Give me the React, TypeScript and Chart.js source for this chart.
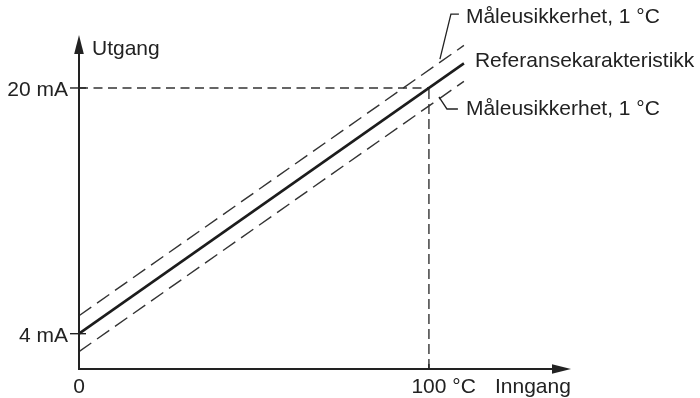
import React, { useEffect, useRef } from "react";
import { Chart, registerables } from "chart.js";

Chart.register(...registerables);

// ---- data (values in axis units: °C along x, mA along y) ----
const inputX = [0, 110];
const referenceY = [4, 21.6];
const upperY = [5.17, 22.77];
const lowerY = [2.83, 20.43];
const guideHX = [0, 100];
const guideHY = [20, 20];
const guideVX = [100, 100];
const guideVY = [1.7, 20];
const yTickValues = [4, 20];
const yTickLabels = ["4 mA", "20 mA"];
const xTickValues = [0, 100];
const xTickLabels = ["0", "100 °C"];
const xTitle = "Inngang";
const yTitle = "Utgang";
const seriesLabels = ["Måleusikkerhet, 1 °C", "Referansekarakteristikk", "Måleusikkerhet, 1 °C"];

const X_MIN = 0;
const X_MAX = 140.6;
const Y_MIN = 1.7;
const Y_MAX = 23.45;

const INK = "#222222";
const FONT = '21px "Liberation Sans", Arial, Helvetica, sans-serif';

const pts = (xs: number[], ys: number[]) => xs.map((x, i) => ({ x, y: ys[i] }));

const schematicPlugin = {
  id: "schematicAxes",
  afterDatasetsDraw(chart: any) {
    const ctx: CanvasRenderingContext2D = chart.ctx;
    const xs = chart.scales.x;
    const ys = chart.scales.y;
    const x0 = xs.getPixelForValue(X_MIN);
    const yB = ys.getPixelForValue(Y_MIN);
    const yT = ys.getPixelForValue(Y_MAX);
    const xR = xs.getPixelForValue(X_MAX);
    ctx.save();
    ctx.strokeStyle = INK;
    ctx.fillStyle = INK;
    ctx.setLineDash([]);
    ctx.lineWidth = 2;
    // axes
    ctx.beginPath();
    ctx.moveTo(x0, yB + 1);
    ctx.lineTo(x0, yT + 16);
    ctx.moveTo(x0 - 1, yB);
    ctx.lineTo(xR - 16, yB);
    ctx.stroke();
    // arrowheads
    ctx.beginPath();
    ctx.moveTo(x0, yT);
    ctx.lineTo(x0 - 4.8, yT + 19);
    ctx.lineTo(x0 + 4.8, yT + 19);
    ctx.closePath();
    ctx.fill();
    ctx.beginPath();
    ctx.moveTo(xR, yB);
    ctx.lineTo(xR - 19, yB - 4.8);
    ctx.lineTo(xR - 19, yB + 4.8);
    ctx.closePath();
    ctx.fill();

    // y ticks and labels
    ctx.lineWidth = 1.4;
    ctx.font = FONT;
    ctx.textBaseline = "alphabetic";
    yTickValues.forEach((v, i) => {
      const py = ys.getPixelForValue(v);
      ctx.beginPath();
      ctx.moveTo(x0 - 9, py);
      ctx.lineTo(x0 + 7, py);
      ctx.stroke();
      ctx.textAlign = "right";
      ctx.fillText(yTickLabels[i], x0 - 11, py + 8.5);
    });
    // x ticks and labels
    xTickValues.forEach((v, i) => {
      const px = xs.getPixelForValue(v);
      if (v !== X_MIN) {
        ctx.beginPath();
        ctx.moveTo(px, yB);
        ctx.lineTo(px, yB - 5);
        ctx.stroke();
      }
      const label = xTickLabels[i];
      const num = label.split(" ")[0];
      const w = ctx.measureText(num).width;
      ctx.textAlign = "left";
      ctx.fillText(label, px - w / 2, 392.5);
    });
    // axis titles
    ctx.textAlign = "left";
    ctx.fillText(yTitle, x0 + 13, yT + 20);
    ctx.fillText(xTitle, xR - 76, 392.5);

    // series labels with leaders
    const last = inputX.length - 1;
    const ex = xs.getPixelForValue(inputX[last]);
    const eUp = ys.getPixelForValue(upperY[last]);
    const eRef = ys.getPixelForValue(referenceY[last]);
    const eLo = ys.getPixelForValue(lowerY[last]);
    ctx.fillText(seriesLabels[0], ex + 2, eUp - 22.4);
    ctx.fillText(seriesLabels[1], ex + 11, eRef + 4);
    ctx.fillText(seriesLabels[2], ex + 2, eLo + 33.6);
    ctx.lineWidth = 1.3;
    ctx.beginPath();
    ctx.moveTo(ex - 24, eUp + 13.6);
    ctx.lineTo(ex - 13, eUp - 31.4);
    ctx.lineTo(ex - 5, eUp - 31.4);
    ctx.moveTo(ex - 25, eLo + 15.6);
    ctx.lineTo(ex - 17, eLo + 27.6);
    ctx.lineTo(ex - 6, eLo + 27.6);
    ctx.stroke();
    ctx.restore();
  },
};

export default function App() {
  const ref = useRef<HTMLCanvasElement | null>(null);
  useEffect(() => {
    document.body.style.margin = "0";
    const canvas = ref.current;
    if (!canvas) return;
    const dashed = { borderColor: "#333333", borderWidth: 1.4, pointRadius: 0, fill: false, tension: 0, clip: false as any };
    const chart = new Chart(canvas, {
      type: "line",
      data: {
        datasets: [
          { label: seriesLabels[1], data: pts(inputX, referenceY), borderColor: "#1c1c1c", borderWidth: 2.6, pointRadius: 0, fill: false, tension: 0, clip: false as any },
          { label: seriesLabels[0], data: pts(inputX, upperY), ...dashed, borderDash: [15, 7] },
          { label: seriesLabels[2], data: pts(inputX, lowerY), ...dashed, borderDash: [15, 7] },
          { label: "20 mA", data: pts(guideHX, guideHY), ...dashed, borderDash: [9, 5.5] },
          { label: "100 °C", data: pts(guideVX, guideVY), ...dashed, borderDash: [10, 5] },
        ],
      },
      options: {
        responsive: false,
        animation: false,
        devicePixelRatio: 1,
        layout: { padding: { left: 79, right: 129, top: 35, bottom: 29 } },
        scales: {
          x: { type: "linear", min: X_MIN, max: X_MAX, display: false },
          y: { type: "linear", min: Y_MIN, max: Y_MAX, display: false },
        },
        plugins: { legend: { display: false }, tooltip: { enabled: false } },
        events: [],
      },
      plugins: [schematicPlugin],
    });
    return () => chart.destroy();
  }, []);
  return (
    <div style={{ position: "absolute", left: 0, top: 0, width: 700, height: 398, background: "#fff" }}>
      <canvas ref={ref} width={700} height={398} style={{ width: 700, height: 398 }} />
    </div>
  );
}
